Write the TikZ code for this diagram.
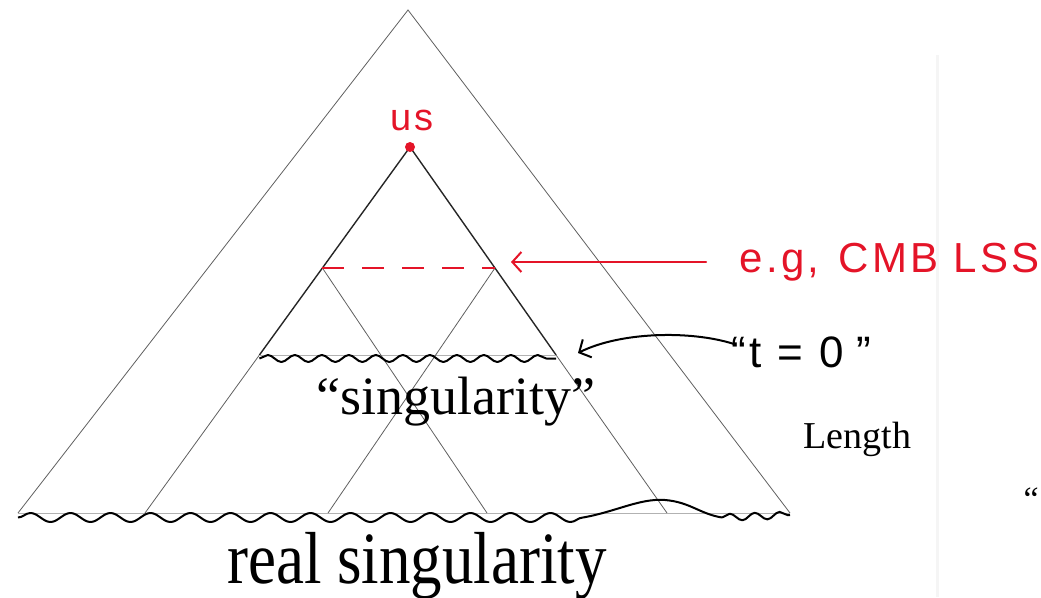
\documentclass[tikz,border=0pt]{standalone}
\usepackage{fontspec}
\setmainfont{Liberation Serif}
\newfontfamily\handfont[LetterSpace=8]{Liberation Sans}
\usetikzlibrary{arrows.meta,positioning,calc,decorations.pathmorphing}
\definecolor{HAND-RED}{RGB}{228, 20, 40}
\definecolor{CONE-GRAY}{RGB}{95, 95, 95}

\tikzset{
  cone/.style={CONE-GRAY, line width=0.8pt},
  pastcone/.style={black!85, line width=1.4pt},
  wiggle/.style 2 args={black, line width=2pt, line join=round, decorate,
    decoration={snake, amplitude=#1, segment length=#2}},
  handarrow/.style={line width=2pt, line cap=round,
    -{Straight Barb[length=9pt, width=20pt, line width=2pt]}},
}

\begin{document}
\begin{tikzpicture}[x=1pt, y=-1pt]
  \useasboundingbox (0,0) rectangle (1041,597);

  % faint page edge on the right
  \draw[gray!8, line width=3pt] (937,55) -- (937,597);

  % outer light cone
  \coordinate (O) at (408,10);
  \coordinate (OL) at (18,513);
  \coordinate (OR) at (790,513);
  \draw[cone] (OL) -- (O) -- (OR);
  \draw[cone, gray!60] (OL) -- (OR);

  % our past light cone
  \coordinate (U) at (410,147);
  \coordinate (UL) at (145,513);
  \coordinate (UR) at (667,513);
  \coordinate (S1) at ($(U)!208/366!(UL)$);
  \coordinate (S2) at ($(U)!208/366!(UR)$);
  \draw[cone] (S1) -- (UL);
  \draw[cone] (S2) -- (UR);
  \draw[pastcone] (S1) -- (U) -- (S2);
  \draw[cone, gray!60] (S1) -- (S2);

  % last scattering points and their cones
  \coordinate (A) at ($(U)!121/366!(UL)$);
  \coordinate (B) at ($(U)!121/366!(UR)$);
  \coordinate (AB) at (487,513);
  \coordinate (BA) at (328,513);
  \draw[cone] (A) -- (AB);
  \draw[cone] (B) -- (BA);
  \draw[HAND-RED, line width=2.6pt, dash pattern=on 22pt off 18pt] (A) -- (B);

  % us
  \fill[HAND-RED] (U) circle (5);
  \node[HAND-RED, font=\handfont\fontsize{38}{38}\selectfont] (uslabel) at (412,120) {us};

  % "singularity"
  \draw[wiggle={3.5}{27}] ($(S1)+(0,3.5)$) -- ($(S2)+(0,3.5)$);
  \node[anchor=base, font=\fontsize{54}{54}\selectfont] (fakesing) at (456,414)
    {“singularity”};

  % real singularity
  \coordinate (W1) at (583,513);
  \coordinate (W2) at (722,513);
  \draw[wiggle={4.5}{40}] ($(OL)+(0,4.5)$) -- ($(W1)+(0,4.5)$);
  \draw[black, line width=2pt, line join=round] ($(W1)+(0,4.5)$)
    .. controls (615,512) and (640,498) .. (665,500)
    .. controls (690,502) and (700,514) .. ($(W2)+(0,4.5)$);
  \draw[wiggle={3.5}{25}] ($(W2)+(0,4.5)$) -- ($(OR)+(0,2)$);
  \node[anchor=base, font=\fontsize{63}{63}\selectfont] (realsing) at (417,583)
    {\scalebox{1}[1.17]{real singularity}};

  % CMB LSS label
  \node[anchor=west, HAND-RED, font=\handfont\fontsize{42}{42}\selectfont] (lss) at (736,262)
    {e.g,\hspace{0.45em}CMB\hspace{0.35em}LSS};
  \coordinate (lsstip) at (511,262);
  \draw[handarrow, HAND-RED] ($(lss.west)+(-30,0)$) -- (lsstip);

  % "t = 0"
  \node[anchor=west, font=\handfont\fontsize{44}{44}\selectfont] (tzero) at (728,352)
    {“t = 0\hspace{0.3em}”};
  \coordinate (ttip) at (578,353);
  \draw[handarrow, black] ($(tzero.west)+(6,-8)$) .. controls (690,330) and (620,332) .. (ttip);

  % slide fragments on the right
  \node[anchor=base west, font=\fontsize{38}{38}\selectfont] (length) at (800,448) {Length};
  \node[anchor=base west, font=\fontsize{34}{34}\selectfont] (quote) at (1020,510) {“};
\end{tikzpicture}
\end{document}
